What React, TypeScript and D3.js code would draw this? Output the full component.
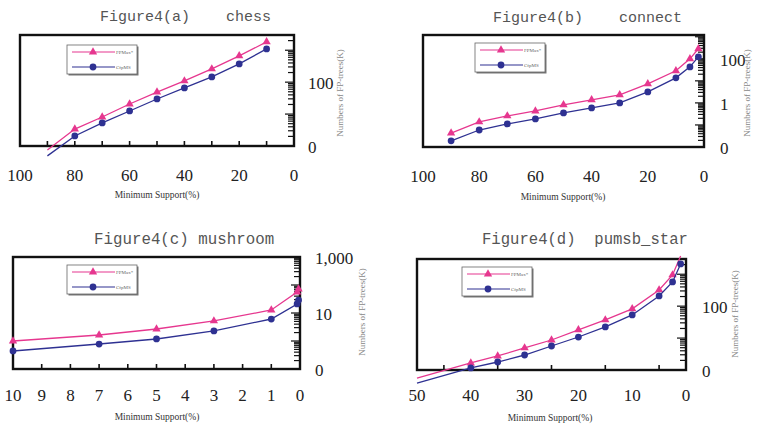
import * as d3 from "d3";
import { useEffect, useRef } from "react";

const WIDTH = 760;
const HEIGHT = 425;

const seriesNames = ["FPMax*", "CfpMS"];
const xTitle = "Minimum Support(%)";
const yTitle = "Numbers of FP-trees(K)";

// Figure4(a) chess
const chessSupport = [90, 80, 70, 60, 50, 40, 30, 20, 10];
const chessFPMax = [0.75, 3.4, 8.1, 20.7, 49, 109, 259, 663, 1820];
const chessCfpMS = [0.49, 2.06, 5.3, 12.5, 29.7, 65.8, 146, 372, 1100];
const chessXTicks = [100, 80, 60, 40, 20, 0];
const chessXMinor = [90, 80, 70, 60, 50, 40, 30, 20, 10];
const chessYTicks = [1, 100];
const chessYLabels = ["0", "100"];

// Figure4(b) connect
const connectSupport = [90, 80, 70, 60, 50, 40, 30, 20, 10, 5, 2];
const connectFPMax = [0.043, 0.137, 0.256, 0.43, 0.81, 1.37, 2.31, 7.3, 28.5, 100, 285];
const connectCfpMS = [0.019, 0.059, 0.111, 0.187, 0.35, 0.59, 1.0, 3.16, 13.7, 43, 123];
const connectXTicks = [100, 80, 60, 40, 20, 0];
const connectXMinor: number[] = [];
const connectYTicks = [0.01, 1, 100];
const connectYLabels = ["0", "1", "100"];

// Figure4(c) mushroom
const mushroomSupport = [10, 7, 5, 3, 1, 0.1, 0.05];
const mushroomFPMax = [1.0, 1.64, 2.68, 5.2, 12.8, 56, 72];
const mushroomCfpMS = [0.44, 0.78, 1.18, 2.28, 6.1, 21, 29];
const mushroomXTicks = [10, 9, 8, 7, 6, 5, 4, 3, 2, 1, 0];
const mushroomXMinor = [9, 8, 7, 6, 5, 4, 3, 2, 1];
const mushroomYTicks = [0.1, 10, 1000];
const mushroomYLabels = ["0", "10", "1,000"];

// Figure4(d) pumsb_star
const pumsbSupport = [50, 40, 35, 30, 25, 20, 15, 10, 5, 2.5, 1];
const pumsbFPMax = [0.56, 1.66, 2.75, 4.9, 8.7, 18, 37, 82, 322, 950, 3700];
const pumsbCfpMS = [0.39, 1.16, 1.78, 2.95, 5.65, 10.8, 22.3, 53, 209, 574, 2100];
const pumsbXTicks = [50, 40, 30, 20, 10, 0];
const pumsbXMinor = [45, 35, 25, 15, 5];
const pumsbYTicks = [1, 100];
const pumsbYLabels = ["0", "100"];

const PINK = "#e6378f";
const BLUE = "#2e3192";

const panels = [
  {
    title: "Figure4(a)    chess", titleX: 100, titleY: 16, titleSize: 15,
    left: 20, right: 294, top: 35, bottom: 146,
    xDomain: [100, 0], yDomain: [1, 3000],
    support: chessSupport, a: chessFPMax, b: chessCfpMS,
    xTicks: chessXTicks, xMinor: chessXMinor, yTicks: chessYTicks, yLabels: chessYLabels,
    xLabelY: 175, yLabelX: 308, legendX: 67, legendY: 45,
    xTitleX: 157, xTitleY: 195, yTitleX: 340, yTitleY: 93,
  },
  {
    title: "Figure4(b)    connect", titleX: 493, titleY: 17, titleSize: 15,
    left: 423, right: 704, top: 35, bottom: 147,
    xDomain: [100, 0], yDomain: [0.01, 1200],
    support: connectSupport, a: connectFPMax, b: connectCfpMS,
    xTicks: connectXTicks, xMinor: connectXMinor, yTicks: connectYTicks, yLabels: connectYLabels,
    xLabelY: 176, yLabelX: 720, legendX: 475, legendY: 43,
    xTitleX: 563, xTitleY: 197, yTitleX: 747, yTitleY: 93,
  },
  {
    title: "Figure4(c) mushroom", titleX: 94, titleY: 238, titleSize: 15.8,
    left: 13, right: 300, top: 257, bottom: 369,
    xDomain: [10, 0], yDomain: [0.1, 1000],
    support: mushroomSupport, a: mushroomFPMax, b: mushroomCfpMS,
    xTicks: mushroomXTicks, xMinor: mushroomXMinor, yTicks: mushroomYTicks, yLabels: mushroomYLabels,
    xLabelY: 395, yLabelX: 315, legendX: 67, legendY: 265,
    xTitleX: 157, xTitleY: 417, yTitleX: 362, yTitleY: 312,
  },
  {
    title: "Figure4(d)  pumsb_star", titleX: 482, titleY: 239, titleSize: 15.6,
    left: 417, right: 686, top: 259, bottom: 370,
    xDomain: [50, 0], yDomain: [1, 3000],
    support: pumsbSupport, a: pumsbFPMax, b: pumsbCfpMS,
    xTicks: pumsbXTicks, xMinor: pumsbXMinor, yTicks: pumsbYTicks, yLabels: pumsbYLabels,
    xLabelY: 395, yLabelX: 702, legendX: 462, legendY: 267,
    xTitleX: 550, xTitleY: 418, yTitleX: 735, yTitleY: 314,
  },
];

const App = () => {
  const svgRef = useRef<SVGSVGElement>(null);

  const drawPanel = (svg: any, p: any) => {
    const g = svg.append("g");
    const x = d3.scaleLinear().domain(p.xDomain).range([p.left, p.right]);
    const y = d3.scaleLog().domain(p.yDomain).range([p.bottom, p.top]);

    // title
    g.append("text")
      .attr("x", p.titleX)
      .attr("y", p.titleY)
      .attr("dy", "0.35em")
      .attr("font-family", "'Liberation Mono', monospace")
      .attr("font-size", p.titleSize)
      .attr("fill", "#555")
      .style("white-space", "pre")
      .text(p.title);

    // right axis minor ticks (log)
    const [d0, d1] = p.yDomain;
    const ticks = y.ticks().filter((t: number) => t >= d0 && t <= d1);
    g.selectAll(".ytick")
      .data(ticks)
      .join("line")
      .attr("x1", p.right)
      .attr("x2", (t: number) => {
        const isMajor = Math.abs(Math.log10(t) - Math.round(Math.log10(t))) < 1e-6;
        return p.right - (isMajor ? 9 : 6);
      })
      .attr("y1", (t: number) => y(t))
      .attr("y2", (t: number) => y(t))
      .attr("stroke", "#111")
      .attr("stroke-width", 1.2);

    // bottom ticks (inward)
    g.selectAll(".xtick")
      .data(p.xMinor)
      .join("line")
      .attr("x1", (d: number) => x(d))
      .attr("x2", (d: number) => x(d))
      .attr("y1", p.bottom)
      .attr("y2", p.bottom - 5)
      .attr("stroke", "#111")
      .attr("stroke-width", 1.6);

    // frame
    g.append("rect")
      .attr("x", p.left)
      .attr("y", p.top)
      .attr("width", p.right - p.left)
      .attr("height", p.bottom - p.top)
      .attr("fill", "none")
      .attr("stroke", "#111")
      .attr("stroke-width", 2.4);

    // x labels
    g.selectAll(".xlabel")
      .data(p.xTicks)
      .join("text")
      .attr("x", (d: number) => x(d))
      .attr("y", p.xLabelY)
      .attr("dy", "0.35em")
      .attr("text-anchor", "middle")
      .attr("font-family", "'Liberation Serif', serif")
      .attr("font-size", 17)
      .attr("fill", "#222")
      .text((d: number) => d);

    // y labels
    g.selectAll(".ylabel")
      .data(p.yTicks)
      .join("text")
      .attr("x", p.yLabelX)
      .attr("y", (d: number) => y(d) + 1)
      .attr("dy", "0.35em")
      .attr("font-family", "'Liberation Serif', serif")
      .attr("font-size", 17)
      .attr("fill", "#222")
      .text((_: number, i: number) => p.yLabels[i]);

    // axis titles
    g.append("text")
      .attr("x", p.xTitleX)
      .attr("y", p.xTitleY)
      .attr("dy", "0.35em")
      .attr("text-anchor", "middle")
      .attr("font-family", "'Liberation Serif', serif")
      .attr("font-size", 9.5)
      .attr("fill", "#333")
      .text(xTitle);

    g.append("text")
      .attr("transform", `translate(${p.yTitleX},${p.yTitleY}) rotate(-90)`)
      .attr("dy", "0.35em")
      .attr("text-anchor", "middle")
      .attr("font-family", "'Liberation Serif', serif")
      .attr("font-size", 9)
      .attr("fill", "#888")
      .text(yTitle);

    // series
    const series = [
      { values: p.a, color: PINK, symbol: d3.symbolTriangle, size: 30 },
      { values: p.b, color: BLUE, symbol: d3.symbolCircle, size: 36 },
    ];
    series.forEach((s) => {
      const pts = p.support.map((d: number, i: number) => [d, s.values[i]]);
      g.append("path")
        .datum(pts)
        .attr("fill", "none")
        .attr("stroke", s.color)
        .attr("stroke-width", 1.3)
        .attr("d", d3.line().x((d: any) => x(d[0])).y((d: any) => y(d[1])));
      g.selectAll(null)
        .data(pts.filter((d: any) => d[1] >= d0 && d[1] <= d1))
        .join("path")
        .attr("transform", (d: any) => `translate(${x(d[0])},${y(d[1])})`)
        .attr("d", d3.symbol().type(s.symbol).size(s.size)())
        .attr("fill", s.color);
    });

    // legend
    const lg = g.append("g").attr("transform", `translate(${p.legendX},${p.legendY})`);
    lg.append("rect")
      .attr("x", 1.5).attr("y", 1.5).attr("width", 70).attr("height", 29)
      .attr("fill", "#777");
    lg.append("rect")
      .attr("width", 70).attr("height", 29)
      .attr("fill", "#fff")
      .attr("stroke", "#666")
      .attr("stroke-width", 0.8);
    series.forEach((s, i) => {
      const ly = 7 + i * 15;
      lg.append("line")
        .attr("x1", 5).attr("x2", 48).attr("y1", ly).attr("y2", ly)
        .attr("stroke", s.color).attr("stroke-width", 1.2);
      lg.append("path")
        .attr("transform", `translate(26,${ly})`)
        .attr("d", d3.symbol().type(s.symbol).size(s.size)())
        .attr("fill", s.color);
      lg.append("text")
        .attr("x", 49).attr("y", ly).attr("dy", "0.35em")
        .attr("font-family", "'Liberation Serif', serif")
        .attr("font-size", 5)
        .attr("fill", "#666")
        .text(seriesNames[i]);
    });
  };

  useEffect(() => {
    const svg = d3.select(svgRef.current);
    svg.selectAll("*").remove();
    svg.append("rect").attr("width", WIDTH).attr("height", HEIGHT).attr("fill", "#fff");
    panels.forEach((p) => drawPanel(svg, p));
  }, []);

  return (
    <svg
      ref={svgRef}
      width={WIDTH}
      height={HEIGHT}
      style={{ position: "absolute", left: 0, top: 0 }}
    ></svg>
  );
};

export default App;
